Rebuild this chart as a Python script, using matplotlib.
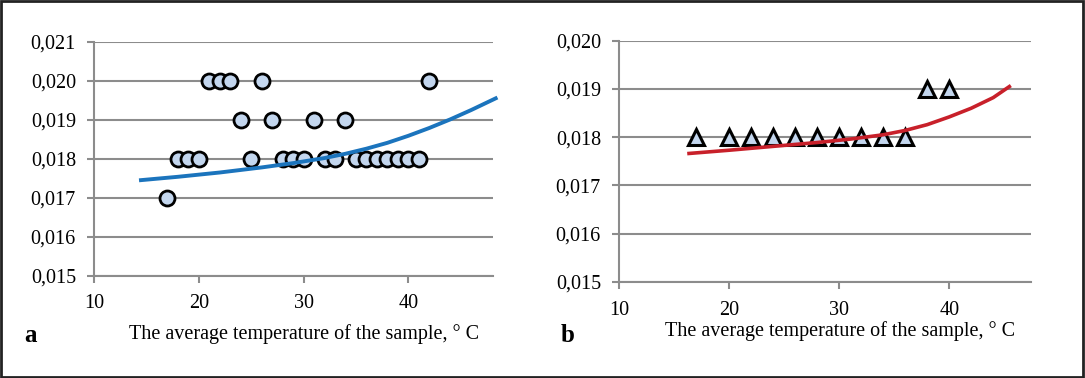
# Two panels: coefficient vs. average sample temperature, with trend curves

import matplotlib
matplotlib.use("Agg")
import matplotlib.pyplot as plt
from matplotlib.patches import Rectangle

plt.rcParams['font.family'] = ['Liberation Serif', 'DejaVu Serif']

# panel a: measured points
temp_a = [17, 18, 19, 20, 21, 22, 23, 24, 25, 26, 27, 28, 29, 30, 31, 32, 33,
          34, 35, 36, 37, 38, 39, 40, 41, 42]
val_a = [0.017, 0.018, 0.018, 0.018, 0.020, 0.020, 0.020, 0.019, 0.018, 0.020,
         0.019, 0.018, 0.018, 0.018, 0.019, 0.018, 0.018, 0.019, 0.018, 0.018,
         0.018, 0.018, 0.018, 0.018, 0.018, 0.020]
# panel a: trend curve
trend_temp_a = [14.3, 18, 22, 26, 29, 32, 34, 36, 38, 40, 42, 44, 46, 48.5]
trend_val_a = [0.01745, 0.01754, 0.01765, 0.01778, 0.01789, 0.01802, 0.01813,
               0.01826, 0.01841, 0.01859, 0.01879, 0.01901, 0.01925, 0.01957]

# panel b: measured points
temp_b = [17, 20, 22, 24, 26, 28, 30, 32, 34, 36, 38, 40]
val_b = [0.018, 0.018, 0.018, 0.018, 0.018, 0.018, 0.018, 0.018, 0.018, 0.018,
         0.019, 0.019]
# panel b: trend curve
trend_temp_b = [16.2, 20, 24, 28, 31, 34, 36, 38, 40, 42, 44, 45.6]
trend_val_b = [0.01766, 0.01773, 0.01781, 0.01789, 0.01796, 0.01805, 0.01814,
               0.01826, 0.01842, 0.01860, 0.01882, 0.01907]

xticks = [10, 20, 30, 40]
xlabel = "The average temperature of the sample, \u00b0 C"
grid_col = "#8c8c8c"
fill_col = "#c3d6ee"
fs = 14.5


def fmt(v):
    return "{:.3f}".format(v).replace(".", ",")


def style_axis(ax, xlim, yticks, xpad):
    ax.set_xlim(*xlim)
    ax.set_ylim(yticks[0], yticks[-1])
    ax.set_xticks(xticks)
    ax.set_xticklabels([str(t) for t in xticks], fontsize=fs)
    ax.set_yticks(yticks)
    ax.set_yticklabels([fmt(t) for t in yticks], fontsize=fs)
    ax.grid(axis="y", color=grid_col, linewidth=1.5)
    ax.set_axisbelow(True)
    for s in ["top", "right"]:
        ax.spines[s].set_visible(False)
    for s in ["left", "bottom"]:
        ax.spines[s].set_color(grid_col)
        ax.spines[s].set_linewidth(1.5)
    ax.tick_params(axis="both", direction="out", length=5, width=1.5,
                   color=grid_col)
    ax.tick_params(axis="x", pad=xpad)
    ax.tick_params(axis="y", pad=8)


fig = plt.figure(figsize=(10.85, 3.78), dpi=100)

# panel a
ax1 = fig.add_axes([0.0866, 0.2698, 0.368, 0.620])
style_axis(ax1, (10, 48.1), [0.015, 0.016, 0.017, 0.018, 0.019, 0.020, 0.021], 8)
ax1.plot(temp_a, val_a, "o", markersize=10.8, markerfacecolor=fill_col,
         markeredgecolor="black", markeredgewidth=2.0, zorder=3)
ax1.plot(trend_temp_a, trend_val_a, color="#1b74bd", linewidth=2.8,
         solid_capstyle="butt", zorder=4, clip_on=False)
ax1.set_xlabel(xlabel, fontsize=fs)
ax1.xaxis.set_label_coords(0.526, -0.205)

# panel b
ax2 = fig.add_axes([0.5705, 0.254, 0.3794, 0.6384])
style_axis(ax2, (10, 47.4), [0.015, 0.016, 0.017, 0.018, 0.019, 0.020], 9)
ax2.plot(temp_b, val_b, "^", markersize=11.5, markerfacecolor=fill_col,
         markeredgecolor="black", markeredgewidth=2.2, zorder=3)
ax2.plot(trend_temp_b, trend_val_b, color="#c8202a", linewidth=2.6,
         solid_capstyle="butt", zorder=4)
ax2.set_xlabel(xlabel, fontsize=fs)
ax2.xaxis.set_label_coords(0.536, -0.16)

# panel letters
fig.text(0.022, 0.095, "a", fontsize=18, fontweight="bold")
fig.text(0.517, 0.095, "b", fontsize=18, fontweight="bold")

# outer frame
fig.patches.append(Rectangle((0.001, 0.002), 0.997, 0.995, transform=fig.transFigure,
                             fill=False, edgecolor="#222222", linewidth=2))

fig.savefig("out.png", dpi=100)
